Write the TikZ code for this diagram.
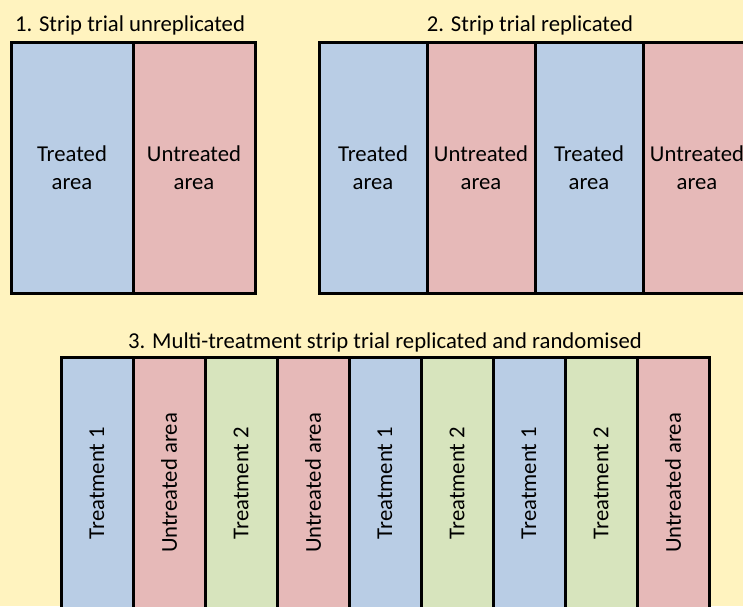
\documentclass[tikz,border=0pt]{standalone}
\usepackage{fontspec}
\setmainfont{Carlito}
\usetikzlibrary{positioning}
\definecolor{bgyellow}{HTML}{FFF3BF}
\definecolor{stripblue}{HTML}{B9CDE5}
\definecolor{strippink}{HTML}{E6B9B8}
\definecolor{stripgreen}{HTML}{D7E4BD}
\tikzset{
  plot/.style={draw=black, line width=3pt, outer sep=0pt, inner sep=0pt, align=center},
  plotA/.style={plot, minimum width=122pt, minimum height=251pt, text width=118pt},
  plotB/.style={plot, minimum width=108pt, minimum height=251pt, text width=106pt},
  plotC/.style={plot, minimum width=72pt, minimum height=252pt},
  treated/.style={fill=stripblue},
  untreated/.style={fill=strippink},
  second/.style={fill=stripgreen}
}
\begin{document}
\begin{tikzpicture}[x=1pt, y=-1pt, font=\fontsize{22.7}{28}\selectfont]
\fill[bgyellow] (0,0) rectangle (743,606);
\useasboundingbox (0,0) rectangle (743,606);
\clip (0,0) rectangle (743,606);

% 1. unreplicated
\node[anchor=base] (titleA) at (130,31) {1. Strip trial unreplicated};
\node[plotA, treated, anchor=north west] (a1) at (11,42) {Treated\\area};
\node[plotA, untreated, right=0pt of a1] (a2) {Untreated\\area};

% 2. replicated
\node[anchor=base] (titleB) at (530,31) {2. Strip trial replicated};
\node[plotB, treated, anchor=north west] (b1) at (319,42) {Treated\\area};
\node[plotB, untreated, right=0pt of b1] (b2) {Untreated\\area};
\node[plotB, treated, right=0pt of b2] (b3) {Treated\\area};
\node[plotB, untreated, right=0pt of b3] (b4) {Untreated\\area};

% 3. multi-treatment, randomised
\node[anchor=base] (titleC) at (385,348) {3. Multi-treatment strip trial replicated and randomised};
\node[plotC, treated, anchor=north west] (c1) at (61,357) {};
\node[plotC, untreated, right=0pt of c1] (c2) {};
\node[plotC, second, right=0pt of c2] (c3) {};
\node[plotC, untreated, right=0pt of c3] (c4) {};
\node[plotC, treated, right=0pt of c4] (c5) {};
\node[plotC, second, right=0pt of c5] (c6) {};
\node[plotC, treated, right=0pt of c6] (c7) {};
\node[plotC, second, right=0pt of c7] (c8) {};
\node[plotC, untreated, right=0pt of c8] (c9) {};

\node[rotate=90] (l1) at (c1) {Treatment 1};
\node[rotate=90] (l2) at (c2) {Untreated area};
\node[rotate=90] (l3) at (c3) {Treatment 2};
\node[rotate=90] (l4) at (c4) {Untreated area};
\node[rotate=90] (l5) at (c5) {Treatment 1};
\node[rotate=90] (l6) at (c6) {Treatment 2};
\node[rotate=90] (l7) at (c7) {Treatment 1};
\node[rotate=90] (l8) at (c8) {Treatment 2};
\node[rotate=90] (l9) at (c9) {Untreated area};
\end{tikzpicture}
\end{document}
